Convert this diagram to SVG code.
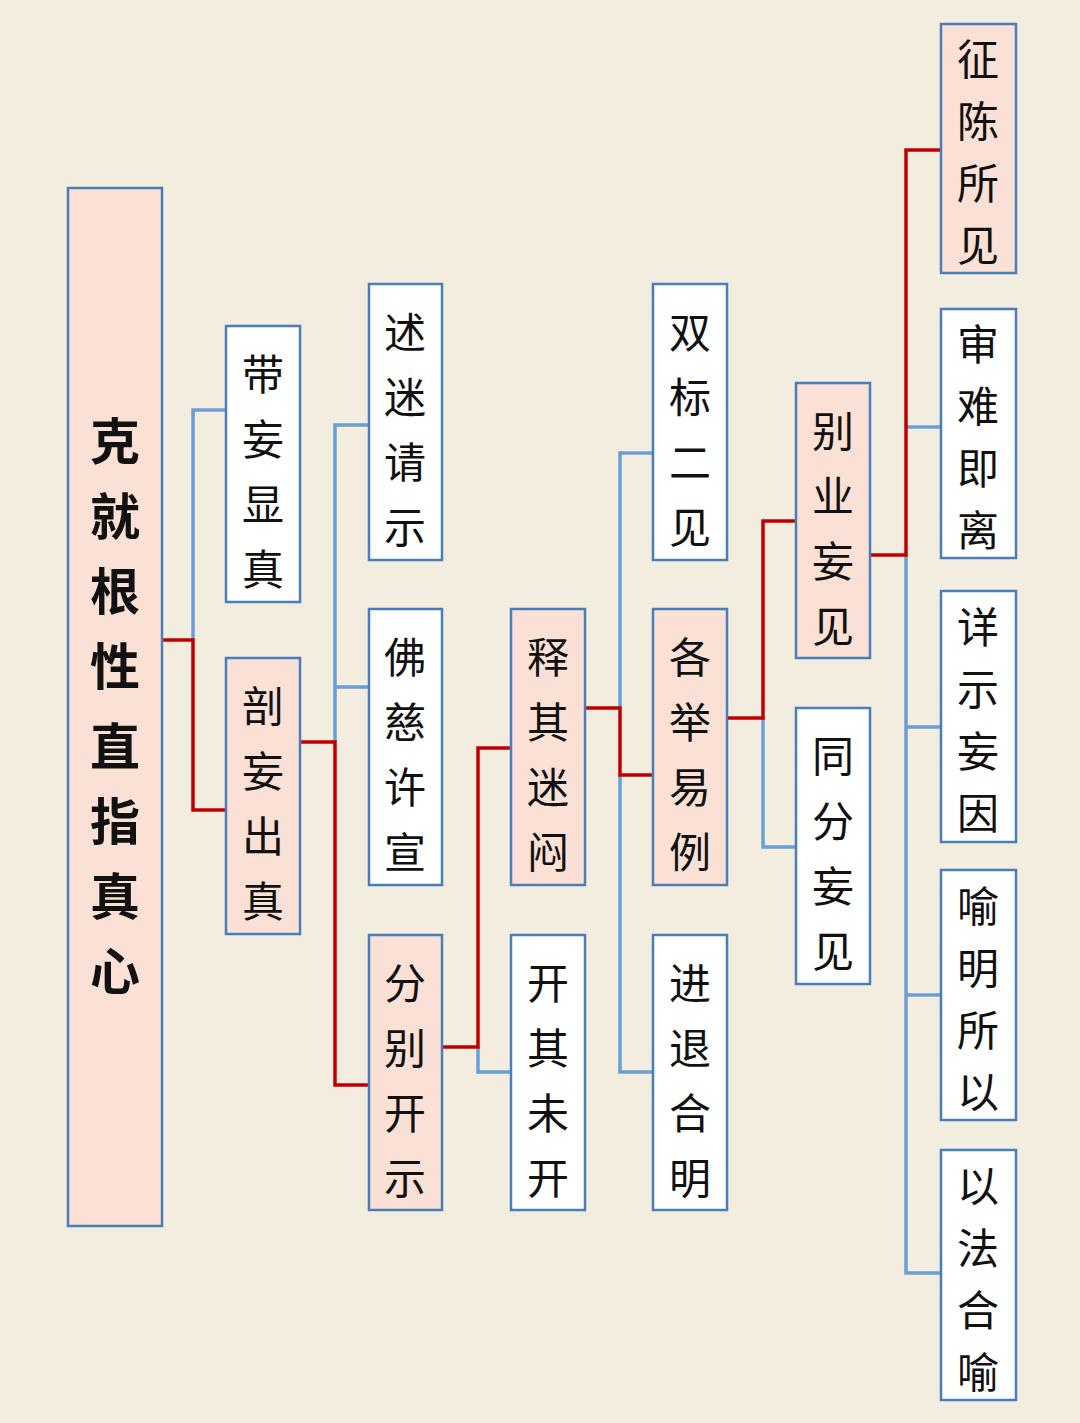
<svg xmlns="http://www.w3.org/2000/svg" width="1080" height="1423" viewBox="0 0 1080 1423">
<style>
.n{fill:#fff;stroke:#4a7ebb;stroke-width:2.5}
.p{fill:#fbe1d5;stroke:#4a7ebb;stroke-width:2.5}
text{font-family:"Noto Sans CJK SC",sans-serif;font-size:42px;fill:#111;text-anchor:middle}
.big{font-size:50px;font-weight:bold}
.r{stroke:#c00000;stroke-width:3.5;fill:none}
.b{stroke:#6a9fd6;stroke-width:3.5;fill:none}
</style>
<rect width="1080" height="1423" fill="#f3ede0"/>
<g id="connectors">
<path class="b" d="M193,640V410H226"/>
<path class="r" d="M162,640H193V810H226"/>
<path class="b" d="M335,742V425H369M335,687H369"/>
<path class="r" d="M300,742H335V1085H369"/>
<path class="b" d="M478,1047V1072H511"/>
<path class="r" d="M442,1047H478V748H511"/>
<path class="b" d="M620,708V453H653M620,775V1072H653"/>
<path class="r" d="M585,708H620V775H653"/>
<path class="b" d="M763,718V847H796"/>
<path class="r" d="M727,718H763V521H796"/>
<path class="b" d="M906,555V1273H941M906,427H941M906,727H941M906,995H941"/>
<path class="r" d="M870,555H906V150H941"/>
</g>
<g id="root"><rect class="p" x="68" y="188" width="94" height="1038"/>
<text class="big" x="115" y="460">克</text><text class="big" x="115" y="535">就</text><text class="big" x="115" y="610">根</text><text class="big" x="115" y="685">性</text><text class="big" x="115" y="765">直</text><text class="big" x="115" y="840">指</text><text class="big" x="115" y="915">真</text><text class="big" x="115" y="990">心</text></g>
<g id="n1"><rect class="n" x="226" y="326" width="74" height="276"/><text x="263" y="390">带</text><text x="263" y="455">妄</text><text x="263" y="520">显</text><text x="263" y="585">真</text></g>
<g id="n2"><rect class="p" x="226" y="658" width="74" height="276"/><text x="263" y="722">剖</text><text x="263" y="787">妄</text><text x="263" y="852">出</text><text x="263" y="917">真</text></g>
<g id="n3"><rect class="n" x="369" y="284" width="73" height="276"/><text x="405" y="348">述</text><text x="405" y="413">迷</text><text x="405" y="478">请</text><text x="405" y="543">示</text></g>
<g id="n4"><rect class="n" x="369" y="609" width="73" height="276"/><text x="405" y="673">佛</text><text x="405" y="738">慈</text><text x="405" y="803">许</text><text x="405" y="868">宣</text></g>
<g id="n5"><rect class="p" x="369" y="935" width="73" height="275"/><text x="405" y="999">分</text><text x="405" y="1064">别</text><text x="405" y="1129">开</text><text x="405" y="1194">示</text></g>
<g id="n6"><rect class="p" x="511" y="609" width="74" height="276"/><text x="548" y="673">释</text><text x="548" y="738">其</text><text x="548" y="803">迷</text><text x="548" y="868">闷</text></g>
<g id="n7"><rect class="n" x="511" y="935" width="74" height="275"/><text x="548" y="999">开</text><text x="548" y="1064">其</text><text x="548" y="1129">未</text><text x="548" y="1194">开</text></g>
<g id="n8"><rect class="n" x="653" y="284" width="74" height="276"/><text x="690" y="348">双</text><text x="690" y="413">标</text><text x="690" y="478">二</text><text x="690" y="543">见</text></g>
<g id="n9"><rect class="p" x="653" y="609" width="74" height="276"/><text x="690" y="673">各</text><text x="690" y="738">举</text><text x="690" y="803">易</text><text x="690" y="868">例</text></g>
<g id="n10"><rect class="n" x="653" y="935" width="74" height="275"/><text x="690" y="999">进</text><text x="690" y="1064">退</text><text x="690" y="1129">合</text><text x="690" y="1194">明</text></g>
<g id="n11"><rect class="p" x="796" y="383" width="74" height="275"/><text x="833" y="447">别</text><text x="833" y="512">业</text><text x="833" y="577">妄</text><text x="833" y="642">见</text></g>
<g id="n12"><rect class="n" x="796" y="708" width="74" height="276"/><text x="833" y="772">同</text><text x="833" y="837">分</text><text x="833" y="902">妄</text><text x="833" y="967">见</text></g>
<g id="n13"><rect class="p" x="941" y="24" width="75" height="249"/><text x="978" y="75">征</text><text x="978" y="137">陈</text><text x="978" y="199">所</text><text x="978" y="261">见</text></g>
<g id="n14"><rect class="n" x="941" y="309" width="75" height="249"/><text x="978" y="360">审</text><text x="978" y="422">难</text><text x="978" y="484">即</text><text x="978" y="546">离</text></g>
<g id="n15"><rect class="n" x="941" y="591" width="75" height="251"/><text x="978" y="643">详</text><text x="978" y="705">示</text><text x="978" y="767">妄</text><text x="978" y="829">因</text></g>
<g id="n16"><rect class="n" x="941" y="870" width="75" height="250"/><text x="978" y="922">喻</text><text x="978" y="984">明</text><text x="978" y="1046">所</text><text x="978" y="1108">以</text></g>
<g id="n17"><rect class="n" x="941" y="1150" width="75" height="250"/><text x="978" y="1202">以</text><text x="978" y="1264">法</text><text x="978" y="1326">合</text><text x="978" y="1388">喻</text></g>
</svg>
